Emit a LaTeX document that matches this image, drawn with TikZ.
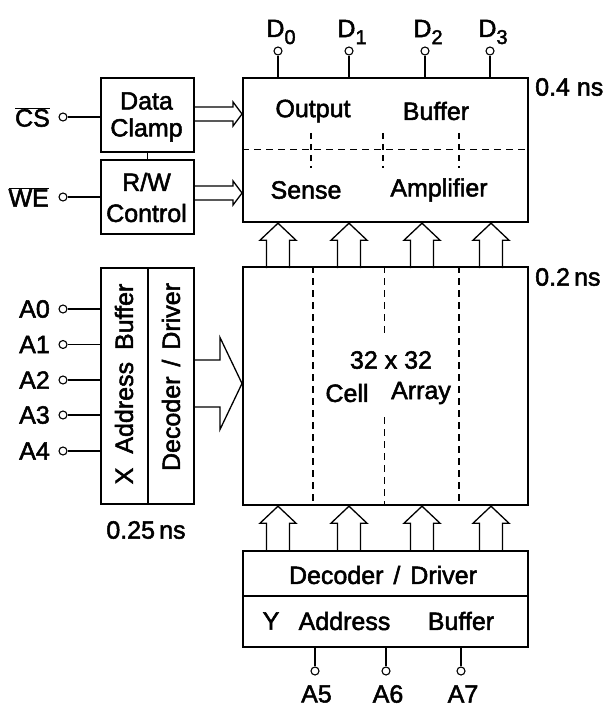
\documentclass[tikz,border=0pt]{standalone}
\usepackage{fontspec}
\setmainfont{Liberation Sans}[FakeBold=2]
\newcommand\sbs[1]{\raisebox{-7pt}{\fontsize{20}{20}\selectfont #1}}
\begin{document}
\begin{tikzpicture}[x=1pt,y=-1pt,
  box/.style={draw,line width=2.2pt,anchor=north west,inner sep=0pt},
  lbl/.style={font=\fontsize{25}{28}\selectfont,inner sep=0pt},
  pinc/.style={draw,line width=1.1pt,fill=white,circle,minimum size=8pt,inner sep=0pt},
  wire/.style={line width=1.2pt},
  dsh/.style={line width=1.1pt,dash pattern=on 7pt off 5pt},
  blk/.style={line width=1.3pt,line join=miter},
  uparr/.pic={\draw[blk] (-11.5,45) -- (-11.5,17) -- (-18,17) -- (0,0) -- (18,17) -- (11.5,17) -- (11.5,45);},
  rarr/.pic={\draw[blk] (-49,-7) -- (-9,-7) -- (-9,-12) -- (0,0) -- (-9,12) -- (-9,7) -- (-49,7);},
  bigarr/.pic={\draw[blk] (-49,-23.5) -- (-22,-23.5) -- (-22,-46) -- (0,0) -- (-22,46) -- (-22,23.5) -- (-49,23.5);}
]
\useasboundingbox (0,0) rectangle (609,708);

% main boxes
\node[box,minimum width=285pt,minimum height=144pt] (ob) at (242,77) {};
\node[box,minimum width=285pt,minimum height=238pt] (ca) at (242,266) {};
\node[box,minimum width=285pt,minimum height=96pt] (yb) at (242,550) {};
\node[box,minimum width=93pt,minimum height=74pt] (dc) at (100,77) {};
\node[box,minimum width=93pt,minimum height=74pt] (rw) at (100,159) {};
\node[box,minimum width=93pt,minimum height=236pt] (xb) at (100,267) {};
\draw[line width=1.8pt] (147.7,267) -- (147.7,503);
\draw[line width=1.8pt] (242,596) -- (527,596);
\draw[wire] (dc.south) -- (rw.north);

% output/sense texts
\node[lbl] (t1) at (313,111) {Output};
\node[lbl] (t2) at (436,111) {Buffer};
\node[lbl] (t3) at (306,190) {Sense};
\node[lbl] (t4) at (439,190) {Amplifier};
\draw[dsh] (242,149.5) -- (527,149.5);
\foreach \xx in {311,383,459} \draw[dsh,dash pattern=on 6pt off 5pt] (\xx,133) -- (\xx,168);

% cell array
\foreach \xx in {313,459} \draw[dsh] (\xx,266) -- (\xx,504);
\draw[dsh] (384.5,266) -- (384.5,335);
\draw[dsh] (384.5,417) -- (384.5,504);
\node[lbl] (t5) at (391,360) {32 x 32};
\node[lbl] (t6) at (347,393) {Cell};
\node[lbl] (t7) at (421,393) {Array};

% left boxes text
\node[lbl] (t8) at (146.5,101) {Data};
\node[lbl] (t9) at (146.5,130) {Clamp};
\node[lbl] (t10) at (146.5,182) {R/W};
\node[lbl] (t11) at (146.5,213) {Control};
\node[lbl,rotate=90] (t12) at (124,384) {X\hspace{14pt}Address\hspace{12pt}Buffer};
\node[lbl,rotate=90] (t13) at (171,377) {Decoder\hspace{3pt} / \hspace{3pt}Driver};

% Y box text
\node[lbl] (t14) at (383,575) {Decoder\hspace{3pt} / \hspace{3pt}Driver};
\node[lbl] (t15) at (271,621) {Y};
\node[lbl] (t16) at (344.5,621) {Address};
\node[lbl] (t17) at (461,621) {Buffer};

% timing labels
\node[lbl,anchor=west] (n1) at (535,87) {0.4 ns};
\node[lbl,anchor=west] (n2) at (535,277) {0.2\,ns};
\node[lbl] (n3) at (146,530) {0.25\,ns};

% D pins
\foreach \xx/\nm/\sub in {278/d0/0,349/d1/1,425/d2/2,490/d3/3}{
  \node[pinc] (\nm) at (\xx,51) {};
  \draw[wire] (\nm) -- (\nm |- ob.north);
  \node[lbl] (\nm l) at (\xx+3,32) {D\sbs{\sub}};
}

% CS, WE
\node[pinc] (cs) at (63,117) {};
\draw[wire] (cs) -- (cs -| dc.west);
\node[lbl,anchor=east] (csl) at (50,117) {$\overline{\hbox{CS}}$};
\node[pinc] (we) at (63,197) {};
\draw[wire] (we) -- (we -| rw.west);
\node[lbl,anchor=east] (wel) at (49,197) {$\overline{\hbox{WE}}$};

% A0-A4
\foreach \yy/\nm/\tx in {309/a0/A0,344.5/a1/A1,380/a2/A2,415/a3/A3,451/a4/A4}{
  \node[pinc] (\nm) at (63,\yy) {};
  \draw[wire] (\nm) -- (\nm -| xb.west);
  \node[lbl,anchor=east] (\nm l) at (50,\yy) {\tx};
}

% A5-A7
\foreach \xx/\nm/\tx/\lx in {315/a5/A5/316.5,386/a6/A6/388,461/a7/A7/463}{
  \node[pinc] (\nm) at (\xx,671) {};
  \draw[wire] (\nm) -- (\nm |- yb.south);
  \node[lbl] (\nm l) at (\lx,694) {\tx};
}

% block arrows
\coordinate (c1) at (278,0);
\coordinate (c2) at (349,0);
\coordinate (c3) at (422,0);
\coordinate (c4) at (491,0);
\foreach \c in {c1,c2,c3,c4}{
  \pic at (\c |- ob.south) {uparr};
  \pic at (\c |- ca.south) {uparr};
}
\coordinate (r1) at (0,114);
\coordinate (r2) at (0,193);
\coordinate (r3) at (0,383.5);
\pic at (ob.west |- r1) {rarr};
\pic at (ob.west |- r2) {rarr};
\pic at (ca.west |- r3) {bigarr};
\end{tikzpicture}
\end{document}
